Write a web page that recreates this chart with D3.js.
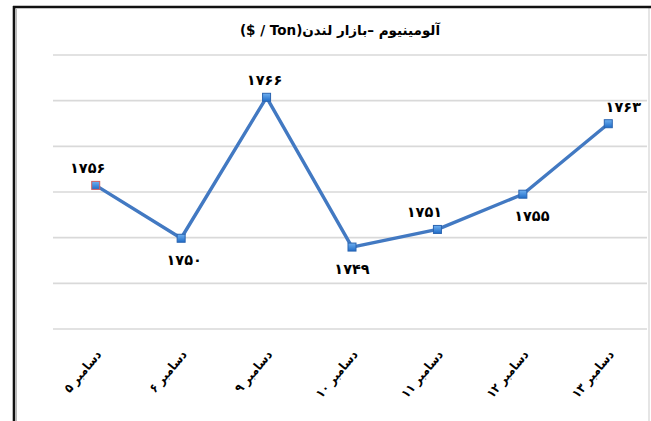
<!DOCTYPE html>
<html>
<head>
<meta charset="utf-8">
<script src="https://cdn.jsdelivr.net/npm/d3@7/dist/d3.min.js"></script>
<style>
  html, body { margin: 0; padding: 0; background: #fff; }
  svg { display: block; }
</style>
</head>
<body>
<script>
// ---- data ----
const titleText = "آلومینیوم –بازار لندن(Ton / $)";
const categories = ["دسامبر ۵", "دسامبر ۶", "دسامبر ۹", "دسامبر ۱۰", "دسامبر ۱۱", "دسامبر ۱۲", "دسامبر ۱۳"];
const values = [1756, 1750, 1766, 1749, 1751, 1755, 1763];
const valueLabels = ["۱۷۵۶", "۱۷۵۰", "۱۷۶۶", "۱۷۴۹", "۱۷۵۱", "۱۷۵۵", "۱۷۶۳"];
const yDomain = [1739.7, 1770.8];
const gridCount = 7;

// ---- layout (not data) ----
const W = 651, H = 421;
const plot = { left: 53, right: 651, top: 55, bottom: 329 };
// label placement per point: side (+1 below / -1 above) and horizontal nudge
const labelLayout = [
  { side: -1, dx: -8 }, { side: 1, dx: 3 }, { side: -1, dx: -2 }, { side: 1, dx: 0 },
  { side: -1, dx: -13 }, { side: 1, dx: 9 }, { side: -1, dx: 15 }
];

const svg = d3.select("body").append("svg").attr("width", W).attr("height", H);
svg.append("rect").attr("width", W).attr("height", H).attr("fill", "#fff");

const x = d3.scaleBand().domain(categories).range([plot.left, plot.right]).padding(0);
const y = d3.scaleLinear().domain(yDomain).range([plot.bottom, plot.top]);
const cx = c => x(c) + x.bandwidth() / 2;

// gridlines
const gridVals = d3.range(gridCount).map(i => yDomain[0] + i * (yDomain[1] - yDomain[0]) / (gridCount - 1));
svg.append("g").selectAll("line").data(gridVals).join("line")
  .attr("x1", plot.left).attr("x2", 647)
  .attr("y1", d => y(d)).attr("y2", d => y(d))
  .attr("stroke", "#d9d9d9").attr("stroke-width", 1.6);

// frame
svg.append("line").attr("x1", 649).attr("x2", 649).attr("y1", 7).attr("y2", H)
  .attr("stroke", "#d4d4d4").attr("stroke-width", 1.2);
svg.append("line").attr("x1", 16.5).attr("x2", 16.5).attr("y1", 9).attr("y2", H)
  .attr("stroke", "#bbb").attr("stroke-width", 1);
svg.append("line").attr("x1", 14).attr("x2", 14).attr("y1", 6).attr("y2", H)
  .attr("stroke", "#111").attr("stroke-width", 2.6);
svg.append("line").attr("x1", 13).attr("x2", W).attr("y1", 7).attr("y2", 7)
  .attr("stroke", "#111").attr("stroke-width", 2.4);

// title
svg.append("text")
  .attr("x", 340).attr("y", 35)
  .attr("direction", "rtl")
  .attr("text-anchor", "middle")
  .attr("font-family", "'DejaVu Sans', sans-serif")
  .attr("font-weight", "bold")
  .attr("font-size", 13.5)
  .attr("fill", "#000")
  .text(titleText);

// line
const pts = values.map((v, i) => [cx(categories[i]), y(v)]);
svg.append("path")
  .attr("d", d3.line()(pts))
  .attr("fill", "none")
  .attr("stroke", "#4279c2")
  .attr("stroke-width", 3.4)
  .attr("stroke-linejoin", "round");

// markers
const defs = svg.append("defs");
const grad = defs.append("linearGradient").attr("id", "mk").attr("x1", 0).attr("y1", 0).attr("x2", 0).attr("y2", 1);
grad.append("stop").attr("offset", "0%").attr("stop-color", "#6fb0f0");
grad.append("stop").attr("offset", "100%").attr("stop-color", "#1f6cc8");
svg.append("g").selectAll("rect").data(values).join("rect")
  .attr("x", (d, i) => cx(categories[i]) - 4)
  .attr("y", d => y(d) - 4)
  .attr("width", 8).attr("height", 8)
  .attr("fill", "url(#mk)")
  .attr("stroke", (d, i) => i === 0 ? "#d06060" : "#2a64b0")
  .attr("stroke-width", 1);

// data labels
svg.append("g").selectAll("text").data(values).join("text")
  .attr("x", (d, i) => cx(categories[i]) + labelLayout[i].dx)
  .attr("y", (d, i) => y(d) + (labelLayout[i].side < 0 ? -12 : 27))
  .attr("text-anchor", "middle")
  .attr("font-family", "'DejaVu Sans', sans-serif")
  .attr("font-weight", "bold")
  .attr("font-size", 14.5)
  .attr("fill", "#000")
  .text((d, i) => valueLabels[i]);

// category labels (rotated)
svg.append("g").selectAll("text").data(categories).join("text")
  .attr("transform", c => `translate(${cx(c) + 3},${352}) rotate(-50)`)
  .attr("text-anchor", "end")
  .attr("dy", "0.35em")
  .attr("font-family", "'DejaVu Sans Condensed', 'DejaVu Sans', sans-serif")
  .attr("font-weight", "bold")
  .attr("font-size", 12.5)
  .attr("fill", "#000")
  .text(c => c);
</script>
</body>
</html>
